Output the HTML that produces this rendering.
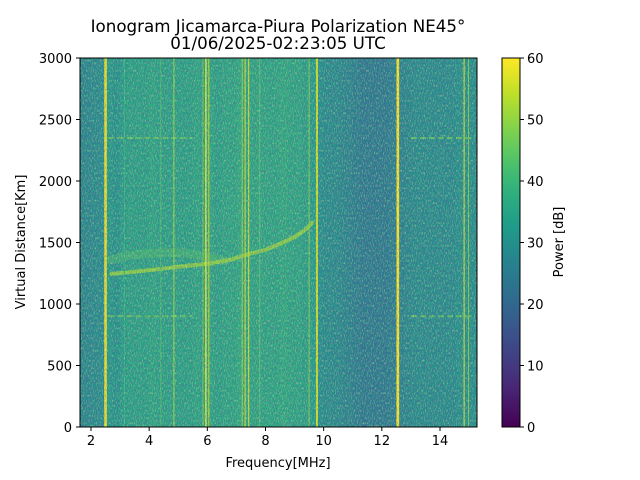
<!DOCTYPE html>
<html><head><meta charset="utf-8"><style>
body{margin:0;background:#fff;}
svg{display:block;font-family:"DejaVu Sans","Liberation Sans",sans-serif;}
</style></head><body>
<svg id="chart" width="640" height="480" viewBox="0 0 640 480">
<defs>
<filter id="noise" x="0" y="0" width="100%" height="100%">
<feTurbulence type="fractalNoise" baseFrequency="1.2 0.45" numOctaves="1" seed="3"/>
<feColorMatrix type="matrix" values="0 0 0 0 0.27  0 0 0 0 0.05  0 0 0 0 0.4  0 0 0 -3.2 1.75"/>
</filter>
<filter id="noise2" x="0" y="0" width="100%" height="100%">
<feTurbulence type="fractalNoise" baseFrequency="1.1 0.4" numOctaves="1" seed="11"/>
<feColorMatrix type="matrix" values="0 0 0 0 0.55  0 0 0 0 0.84  0 0 0 0 0.3  0 0 0 3.2 -1.55"/>
</filter>
<linearGradient id="cbar" x1="0" y1="1" x2="0" y2="0"></linearGradient>
<clipPath id="plotclip"><rect x="80" y="58" width="397" height="369"/></clipPath>
</defs>
<text x="278" y="32" text-anchor="middle" font-size="16.7">Ionogram Jicamarca-Piura Polarization NE45°</text>
<text x="278" y="49" text-anchor="middle" font-size="16.7">01/06/2025-02:23:05 UTC</text>
<g id="plot" clip-path="url(#plotclip)"></g>
<rect x="80" y="58" width="397" height="369" filter="url(#noise)" opacity="0.45" clip-path="url(#plotclip)"/>
<rect x="80" y="58" width="397" height="369" filter="url(#noise2)" opacity="0.5" clip-path="url(#plotclip)"/>
<rect x="80" y="58" width="397" height="369" fill="none" stroke="#000" stroke-width="1"/>
<g id="xaxis"></g>
<g id="yaxis"></g>
<text x="278" y="467" text-anchor="middle" font-size="13">Frequency[MHz]</text>
<text transform="translate(25,242) rotate(-90)" text-anchor="middle" font-size="13">Virtual Distance[Km]</text>
<rect x="502" y="58" width="18" height="369" fill="url(#cbar)" stroke="#000" stroke-width="1"/>
<g id="caxis"></g>
<text transform="translate(563,242) rotate(-90)" text-anchor="middle" font-size="13">Power [dB]</text>
</svg>
<script>
const binStart = 1.5;
const binWidth = 0.25;
const columnPower = [30,30,31,31,34,33,35,36,36,36,37,36,36,36,36,36,37,36,37,36,37,37,38,37,37,37,37,37,38,37,37,36,35,32,31,31,30,29,28,27,27,27,27,28,29,30,31,31,31,31,31,31,32,32,32,31];
const lineFreqs = [2.5,3.15,4.85,5.95,6.05,5.85,7.2,7.3,7.42,7.8,9.5,9.77,12.55,14.83,14.98,4.4];
const linePowers = [58,40,50,56,52,47,50,55,55,44,48,55,60,55,47,42];
const lineWidths = [0.09,0.03,0.04,0.06,0.04,0.03,0.03,0.04,0.04,0.03,0.03,0.07,0.09,0.04,0.03,0.03];
const traceFreqs = [2.7,3.2,3.8,4.4,4.9,5.5,6.1,6.8,7.4,8.0,8.6,9.0,9.4,9.6];
const traceKm = [1245,1255,1270,1285,1300,1315,1330,1360,1405,1440,1500,1545,1610,1660];
const trace2Freqs = [2.7,3.3,4.0,4.7,5.4,6.0,6.6];
const trace2Km = [1360,1395,1410,1420,1410,1380,1350];
const hlineKm = [2350,900];
const hlineFrom = [2.6,2.6];
const hlineTo = [5.5,5.5];
const hline2From = [13.0,13.0];
const hline2To = [15.2,15.2];
const xTicks = [2,4,6,8,10,12,14];
const yTicks = [0,500,1000,1500,2000,2500,3000];
const cTicks = [0,10,20,30,40,50,60];

const NS='http://www.w3.org/2000/svg';
const X0=80,X1=477,Y0=427,Y1=58;
const fx=f=>91+(f-2)*29.083;
const fy=k=>Y0-(k/3000)*(Y0-Y1);
const vir=[[68,1,84],[72,40,120],[62,73,137],[49,104,142],[38,130,142],[31,158,137],[53,183,121],[110,206,88],[181,222,43],[253,231,37]];
function cmap(v){let t=Math.max(0,Math.min(1,v/60))*(vir.length-1);let i=Math.min(vir.length-2,Math.floor(t));let r=t-i;
const c=vir[i].map((a,j)=>Math.round(a+(vir[i+1][j]-a)*r));return `rgb(${c[0]},${c[1]},${c[2]})`;}
function mk(tag,attrs,parent){const e=document.createElementNS(NS,tag);for(const k in attrs)e.setAttribute(k,attrs[k]);parent.appendChild(e);return e;}
const plot=document.getElementById('plot');
columnPower.forEach((p,i)=>{
 const r=mk('rect',{x:fx(binStart+i*binWidth),y:Y1,width:binWidth*29.083+0.6,height:Y0-Y1,fill:cmap(p-1)},plot);
 
 
});
hlineKm.forEach((k,i)=>{
 [[hlineFrom[i],hlineTo[i]],[hline2From[i],hline2To[i]]].forEach(([a,b])=>{
 const l=mk('line',{x1:fx(a),x2:fx(b),y1:fy(k),y2:fy(k),stroke:cmap(46),'stroke-width':2,'stroke-dasharray':'6 3',opacity:0.8},plot);
 
 });
});
function poly(fs,ks,p,w,name,op){
 const pts=fs.map((f,i)=>fx(f)+','+fy(ks[i])).join(' ');
 const e=mk('polyline',{points:pts,fill:'none',stroke:cmap(p),'stroke-width':w,'stroke-linecap':'round',opacity:op},plot);
 
 
}
poly(trace2Freqs,trace2Km,42,9,'echo-trace-secondary',0.6);
poly(traceFreqs,traceKm,50,4,'echo-trace',0.85);
lineFreqs.forEach((f,i)=>{
 const w=Math.max(1,lineWidths[i]*29.083);
 const r=mk('rect',{x:fx(f)-w/2,y:Y1,width:w,height:Y0-Y1,fill:cmap(linePowers[i])},plot);
 
 
});
const xa=document.getElementById('xaxis');
xTicks.forEach(t=>{const x=fx(t);
 mk('line',{x1:x,x2:x,y1:Y0,y2:Y0+4,stroke:'#000'},xa);
 const tx=mk('text',{x:x,y:Y0+18,'text-anchor':'middle','font-size':13},xa);tx.textContent=t;
 
 });
const ya=document.getElementById('yaxis');
yTicks.forEach(t=>{const y=fy(t);
 mk('line',{x1:X0-4,x2:X0,y1:y,y2:y,stroke:'#000'},ya);
 const tx=mk('text',{x:X0-8,y:y+5,'text-anchor':'end','font-size':13},ya);tx.textContent=t;
 
 });
const ca=document.getElementById('caxis');
cTicks.forEach(t=>{const y=Y0-(t/60)*(Y0-Y1);
 mk('line',{x1:520,x2:524,y1:y,y2:y,stroke:'#000'},ca);
 const tx=mk('text',{x:527,y:y+5,'font-size':13},ca);tx.textContent=t;
 
 });
const g=document.getElementById('cbar');
for(let i=0;i<=20;i++){mk('stop',{offset:(i/20),'stop-color':cmap(i*3)},g);}
</script>
</body></html>
